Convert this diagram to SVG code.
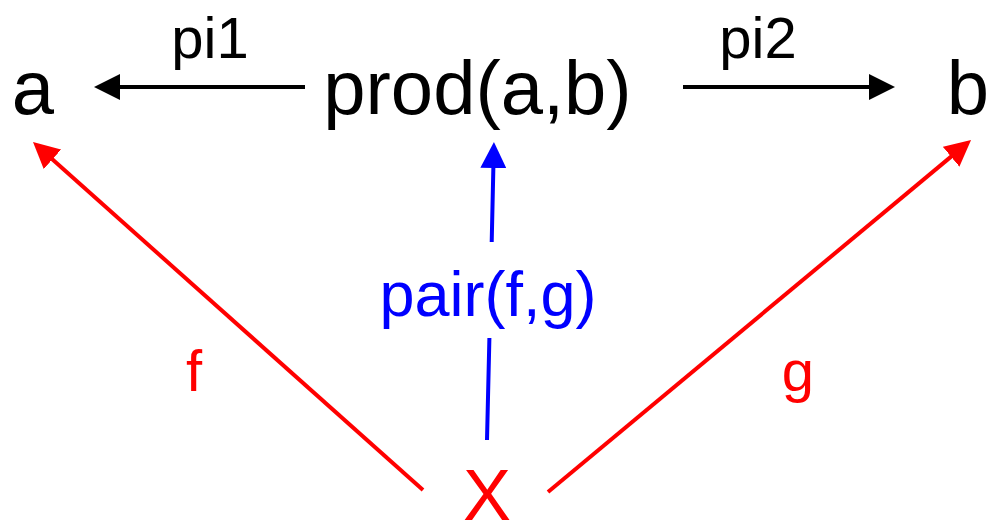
<svg xmlns="http://www.w3.org/2000/svg" width="989" height="524" viewBox="0 0 989 524">
<style>
text{font-family:"Liberation Sans",Arial,sans-serif;text-anchor:middle}
.n{font-size:76px;fill:#000}
.lbl{font-size:58px}
.blk{stroke:#000;stroke-width:4;fill:none}
.red{stroke:#f00;stroke-width:4;fill:none}
.blu{stroke:#00f;stroke-width:4;fill:none}
</style>
<defs>
<marker id="hk" viewBox="0 0 26 26" refX="2" refY="13" markerWidth="26" markerHeight="26" markerUnits="userSpaceOnUse" orient="auto"><path d="M0,0 L26,13 L0,26 z" fill="#000"/></marker>
<marker id="hr" viewBox="0 0 26 26" refX="2" refY="13" markerWidth="26" markerHeight="26" markerUnits="userSpaceOnUse" orient="auto"><path d="M0,0 L26,13 L0,26 z" fill="#f00"/></marker>
<marker id="hb" viewBox="0 0 26 26" refX="2" refY="13" markerWidth="26" markerHeight="26" markerUnits="userSpaceOnUse" orient="auto"><path d="M0,0 L26,13 L0,26 z" fill="#00f"/></marker>
</defs>
<rect width="989" height="524" fill="#fff"/>
<g id="connectors">
<line class="blk" x1="305" y1="87" x2="118" y2="87" marker-end="url(#hk)"/>
<line class="blk" x1="683" y1="87" x2="871" y2="87" marker-end="url(#hk)"/>
<line class="red" x1="423" y1="490" x2="50.9" y2="158" marker-end="url(#hr)"/>
<line class="red" x1="548" y1="492" x2="952.6" y2="155.4" marker-end="url(#hr)"/>
<path class="blu" d="M487,440 L489.4,338 M491.7,242 L493.4,166" marker-end="url(#hb)"/>
<text class="lbl" x="210" y="58" fill="#000">pi1</text>
<text class="lbl" x="758" y="58" fill="#000">pi2</text>
<text class="lbl" x="194" y="391" fill="#f00">f</text>
<text class="lbl" x="798" y="391" fill="#f00">g</text>
<text x="488" y="316" font-size="63" fill="#00f">pair(f,g)</text>
</g>
<g id="node-a"><text class="n" x="33" y="114">a</text></g>
<g id="node-prod"><text class="n" x="477.5" y="114">prod(a,b)</text></g>
<g id="node-b"><text class="n" x="968" y="114">b</text></g>
<g id="node-X"><text x="487" y="520" font-size="72" fill="#f00">X</text></g>
</svg>
